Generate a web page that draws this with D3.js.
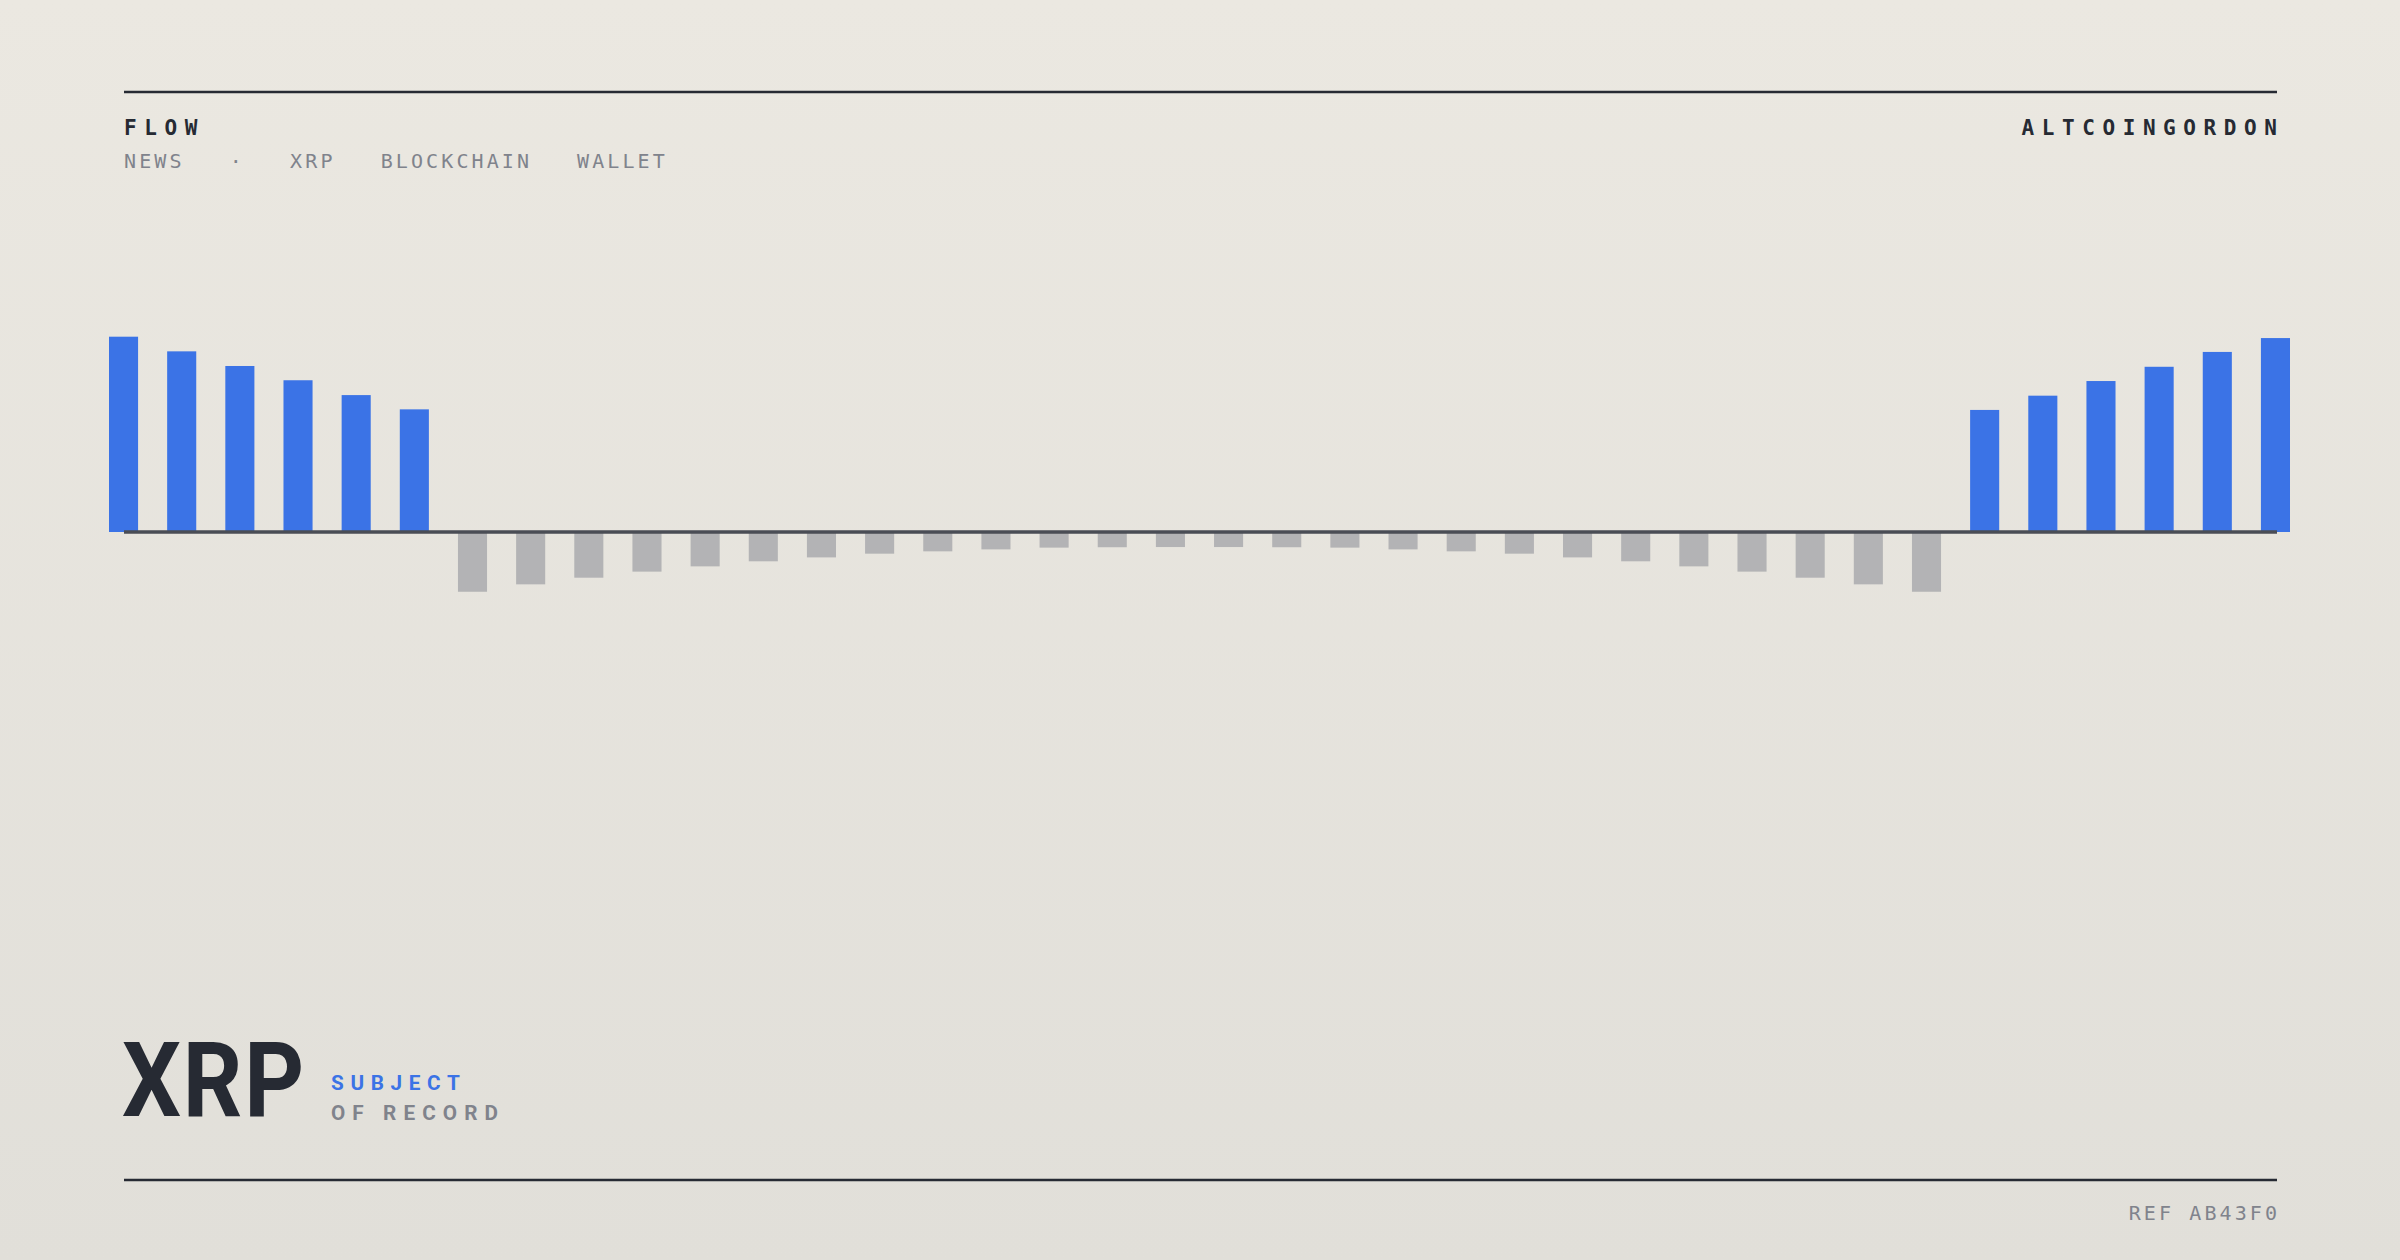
<!DOCTYPE html>
<html>
<head>
<meta charset="utf-8">
<script src="https://cdn.jsdelivr.net/npm/d3@7/dist/d3.min.js"></script>
<style>
html,body{margin:0;padding:0;width:2400px;height:1260px;overflow:hidden;}
svg{display:block;}
</style>
</head>
<body>
<svg id="chart" width="2400" height="1260"></svg>
<script>
// ---- data ----
const flowValues = [
  100, 92.5, 85, 77.7, 70.1, 62.8,
  -30.6, -26.8, -23.4, -20.3, -17.6, -15.0, -13.0, -11.1, -9.9, -8.9, -8.0, -7.8, -7.7,
  -7.7, -7.8, -8.0, -8.9, -9.9, -11.1, -13.0, -15.0, -17.6, -20.3, -23.4, -26.8, -30.6,
  62.5, 69.8, 77.3, 84.6, 92.2, 99.3
];
const categories = flowValues.map((_, i) => "P" + String(i + 1).padStart(2, "0"));
const headerTitle = "FLOW";
const headerTags = ["NEWS", "·", "XRP", "BLOCKCHAIN", "WALLET"];
const headerTagSlots = [0, 7, 11, 17, 30];
const brand = "ALTCOINGORDON";
const subjectName = "XRP";
const subjectLine1 = "SUBJECT";
const subjectLine2 = "OF RECORD";
const refLabel = "REF AB43F0";

// ---- styles ----
const INK = "#262a33";
const MUTED = "#80838c";
const BLUE = "#3b73e6";
const GREY = "#b3b3b5";
const MONO = "'DejaVu Sans Mono', 'Liberation Mono', monospace";
const SANS = "Roboto, Inter, 'Noto Sans', sans-serif";

const svg = d3.select("#chart");
const W = 2400, H = 1260;
const left = 124, right = 2277;

// background gradient
const defs = svg.append("defs");
const grad = defs.append("linearGradient").attr("id", "bg").attr("x1", 0).attr("y1", 0).attr("x2", 0).attr("y2", 1);
grad.append("stop").attr("offset", "0%").attr("stop-color", "#ebe8e1");
grad.append("stop").attr("offset", "100%").attr("stop-color", "#e1dfd9");
svg.append("rect").attr("width", W).attr("height", H).attr("fill", "url(#bg)");

// rules
svg.append("line").attr("x1", left).attr("x2", right).attr("y1", 92).attr("y2", 92)
  .attr("stroke", INK).attr("stroke-width", 2.5);
svg.append("line").attr("x1", left).attr("x2", right).attr("y1", 1180).attr("y2", 1180)
  .attr("stroke", INK).attr("stroke-width", 2.5);

// header
svg.append("text").attr("x", left).attr("y", 134.5)
  .attr("font-family", MONO).attr("font-weight", 700).attr("font-size", 21)
  .attr("letter-spacing", 7.6).attr("fill", INK).text(headerTitle);

svg.append("text").attr("x", right + 7.6).attr("y", 134.5).attr("text-anchor", "end")
  .attr("font-family", MONO).attr("font-weight", 700).attr("font-size", 21)
  .attr("letter-spacing", 7.6).attr("fill", INK).text(brand);

const tagPitch = 15.1;
svg.append("g").selectAll("text").data(headerTags).join("text")
  .attr("x", (d, i) => left + headerTagSlots[i] * tagPitch)
  .attr("y", 167.5)
  .attr("font-family", MONO).attr("font-size", 20).attr("letter-spacing", 3.1)
  .attr("fill", MUTED).text(d => d);

// chart
const x = d3.scaleBand().domain(categories).range([109, 2290]).paddingInner(0.5).paddingOuter(0);
const y = d3.scaleLinear().domain([0, 100]).range([532, 336.7]);

svg.append("g").selectAll("rect").data(flowValues).join("rect")
  .attr("x", (d, i) => x(categories[i]))
  .attr("width", x.bandwidth())
  .attr("y", d => d >= 0 ? y(d) : y(0))
  .attr("height", d => Math.abs(y(d) - y(0)))
  .attr("fill", d => d >= 0 ? BLUE : GREY);

svg.append("line").attr("x1", left).attr("x2", right).attr("y1", y(0)).attr("y2", y(0))
  .attr("stroke", "#4a4d55").attr("stroke-width", 3.5);

// footer subject
function fitText(sel, x0, x1) {
  const n = sel.text().length;
  sel.attr("letter-spacing", 0).attr("x", x0);
  let b = sel.node().getBBox();
  const ls = ((x1 - x0) - b.width) / (n - 1);
  sel.attr("letter-spacing", ls);
  b = sel.node().getBBox();
  sel.attr("x", x0 - (b.x - x0));
}

// big name: condensed horizontally to the reference width
const bigG = svg.append("g");
const big = bigG.append("text").attr("x", 0).attr("y", 0)
  .attr("font-family", SANS).attr("font-weight", 700).attr("font-size", 104.5)
  .attr("letter-spacing", 2).attr("fill", INK).text(subjectName);
{
  const b = big.node().getBBox();
  const targetW = 304 - 122 + 2;
  const sx = targetW / b.width;
  bigG.attr("transform", `translate(${122 - b.x * sx},1116) scale(${sx},1)`);
}

const s1 = svg.append("text").attr("y", 1090.3)
  .attr("font-family", SANS).attr("font-weight", 700).attr("font-size", 20.7)
  .attr("fill", BLUE).text(subjectLine1);
fitText(s1, 331, 460);
const s2 = svg.append("text").attr("y", 1120)
  .attr("font-family", SANS).attr("font-weight", 700).attr("font-size", 20.7)
  .attr("fill", MUTED).text(subjectLine2);
fitText(s2, 331, 498);

svg.append("text").attr("x", right + 3.1).attr("y", 1220).attr("text-anchor", "end")
  .attr("font-family", MONO).attr("font-size", 20).attr("letter-spacing", 3.1)
  .attr("fill", MUTED).text(refLabel);
</script>
</body>
</html>
